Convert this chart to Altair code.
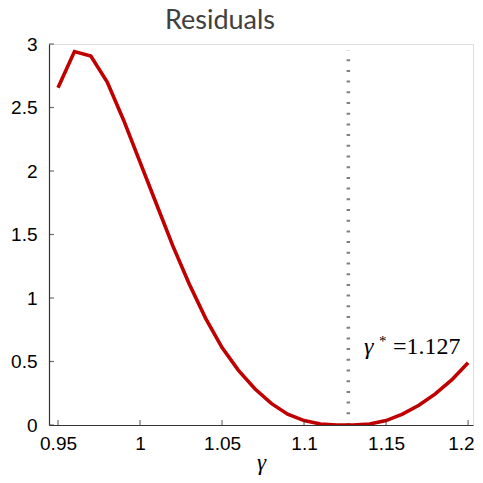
import altair as alt
import pandas as pd

# Data
gamma = [0.95, 0.96, 0.97, 0.98, 0.99, 1.00, 1.01, 1.02, 1.03, 1.04, 1.05,
         1.06, 1.07, 1.08, 1.09, 1.10, 1.11, 1.12, 1.13, 1.14, 1.15, 1.16,
         1.17, 1.18, 1.19, 1.20]
residual = [2.655, 2.94, 2.905, 2.70, 2.40, 2.07, 1.74, 1.41, 1.11, 0.84, 0.61,
            0.43, 0.285, 0.17, 0.085, 0.035, 0.008, 0.0, 0.0, 0.008, 0.035, 0.085,
            0.155, 0.245, 0.355, 0.49]
x_ticks = [0.95, 1.0, 1.05, 1.1, 1.15, 1.2]
y_ticks = [0, 0.5, 1, 1.5, 2, 2.5, 3]
gamma_star = 1.127
gamma_star_label = "=1.127"

X_DOMAIN = [0.9445, 1.203]
Y_DOMAIN = [0, 3]

df = pd.DataFrame({"gamma": gamma, "residual": residual})
xs = alt.Scale(domain=X_DOMAIN, nice=False, zero=False)
ys = alt.Scale(domain=Y_DOMAIN, nice=False, zero=False)

line = alt.Chart(df).mark_line(color="#c00000", strokeWidth=3.6, clip=True).encode(
    x=alt.X("gamma:Q", scale=xs,
            axis=alt.Axis(values=x_ticks, format="~g", ticks=False, tickSize=0, grid=False,
                          labelFont="Liberation Sans", labelFontSize=19,
                          labelColor="black", labelPadding=9,
                          labelAlign=alt.condition("datum.value >= 1.2",
                                                   alt.value("right"), alt.value("center")),
                          labelOffset=alt.condition("datum.value >= 1.2",
                                                    alt.value(6), alt.value(0)),
                          labelFlush=False, labelOverlap=False,
                          domainColor="#333", domainWidth=1.2,
                          title="γ", titleFont="Liberation Serif",
                          titleFontStyle="italic", titleFontWeight="normal",
                          titleFontSize=23, titleColor="black", titlePadding=-2)),
    y=alt.Y("residual:Q", scale=ys,
            axis=alt.Axis(values=y_ticks, format="~g", ticks=False, tickSize=0, grid=False,
                          labelFont="Liberation Sans", labelFontSize=19,
                          labelColor="black", labelPadding=12,
                          labelFlush=False, labelOverlap=False,
                          domainColor="#333", domainWidth=1.2, title=None)),
)

xt = alt.Chart(pd.DataFrame({"t": x_ticks})).mark_tick(
    orient="vertical", size=5, thickness=1.2, color="#333", yOffset=-2.5
).encode(x=alt.X("t:Q", scale=xs), y=alt.datum(0, scale=ys))

yt = alt.Chart(pd.DataFrame({"t": y_ticks})).mark_tick(
    orient="horizontal", size=5, thickness=1.2, color="#333", xOffset=2.5
).encode(y=alt.Y("t:Q", scale=ys), x=alt.datum(X_DOMAIN[0], scale=xs))

vline = alt.Chart(pd.DataFrame({"g": [gamma_star], "y0": [0], "y1": [2.95]})).mark_rule(
    color="#808080", strokeWidth=3.5, strokeDash=[2, 8.7]
).encode(x=alt.X("g:Q", scale=xs), y=alt.Y("y0:Q", scale=ys), y2="y1:Q")

lab_df = pd.DataFrame({"x": [1.1366], "y": [0.56]})
g_txt = alt.Chart(lab_df).mark_text(
    text="γ", font="Liberation Serif", fontStyle="italic", fontSize=24,
    align="left", baseline="alphabetic", color="black"
).encode(x=alt.X("x:Q", scale=xs), y=alt.Y("y:Q", scale=ys))
star_txt = alt.Chart(lab_df).mark_text(
    text="*", font="Liberation Serif", fontSize=15,
    align="left", baseline="alphabetic", color="black", dx=15, dy=-8
).encode(x=alt.X("x:Q", scale=xs), y=alt.Y("y:Q", scale=ys))
val_txt = alt.Chart(lab_df).mark_text(
    text=gamma_star_label, font="Liberation Serif", fontSize=24,
    align="left", baseline="alphabetic", color="black", dx=29
).encode(x=alt.X("x:Q", scale=xs), y=alt.Y("y:Q", scale=ys))

chart = alt.layer(vline, line, xt, yt, g_txt, star_txt, val_txt).properties(
    width=424, height=381,
    title=alt.TitleParams("Residuals", font="Lato", fontSize=27, fontWeight="normal",
                          color="#404040", anchor="middle", dx=-41, offset=12, dy=12),
    autosize=alt.AutoSizeParams(type="none"),
    padding={"left": 41, "top": 36, "right": 2, "bottom": 50},
).configure_view(stroke=None).configure(background="white")

chart.save("out.html", embed_options={"renderer": "svg", "actions": False})
